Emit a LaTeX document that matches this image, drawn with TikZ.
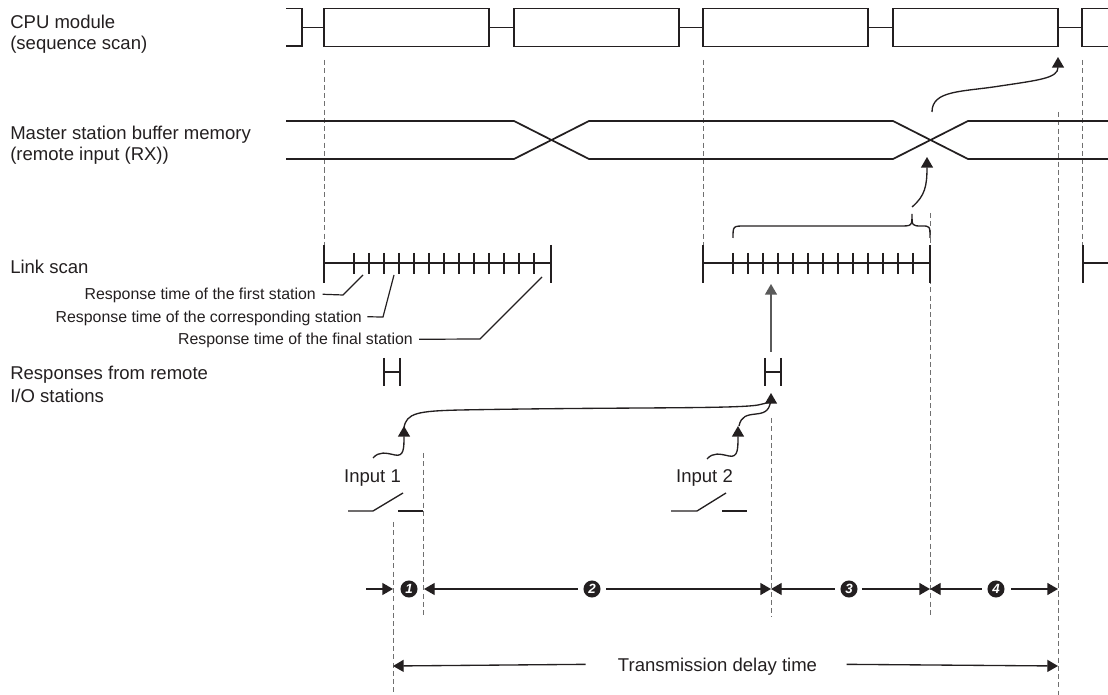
\documentclass[tikz,border=0pt]{standalone}
\usepackage{fontspec}
\setmainfont{Liberation Sans}
\usetikzlibrary{arrows.meta}

\definecolor{ink}{HTML}{231F20}
\definecolor{guide}{HTML}{707070}

\tikzset{
  lbl/.style={anchor=base west, inner sep=0pt, text=ink,
    font=\fontsize{13.9}{16}\selectfont},
  rlbl/.style={lbl, anchor=base east, font=\fontsize{11.9}{14}\selectfont},
  clbl/.style={lbl, anchor=base},
  cpubox/.style={draw=ink, line width=1.3pt, minimum width=123.75pt, minimum height=28.5pt,
    inner sep=0pt, outer sep=0pt},
  sig/.style={draw=ink, line width=1.3pt},
  scanline/.style={draw=ink, line width=1.8pt},
  guideline/.style={draw=guide, line width=0.7pt, dash pattern=on 3.8pt off 2.4pt},
  tip/.style={draw=ink, line width=1pt, -{Triangle[length=8pt,width=9pt]}},
  num/.style={circle, fill=ink, text=white, inner sep=0pt, minimum size=12.8pt,
    font=\fontsize{10}{10}\selectfont\bfseries\itshape},
}

\begin{document}
\begin{tikzpicture}[x=0.75pt, y=-0.75pt]
\useasboundingbox (0,0) rectangle (1108,695);

% row labels
\node[lbl] (cpuA) at (10,28.5) {CPU module};
\node[lbl] (cpuB) at (10,50) {(sequence scan)};
\node[lbl] (bufA) at (10,139.5) {Master station buffer memory};
\node[lbl] (bufB) at (10,161) {(remote input (RX))};
\node[lbl] (scan) at (10,274) {Link scan};
\node[lbl] (respA) at (10,380) {Responses from remote};
\node[lbl] (respB) at (10,403) {I/O stations};

% guide lines
\foreach \x/\ya/\yb in {324/60/245, 703/60/245, 1082/60/245, 1058/112/695,
                        930/213/617, 771/418/617, 423/453/617, 393/522/695}
  \draw[guideline] (\x,\ya) -- (\x,\yb);

% sequence scan
\foreach \i/\x in {1/406.5, 2/596.5, 3/785.5, 4/975.5}
  \node[cpubox] (cpu\i) at (\x,27.5) {};
\draw[sig] (286,8.5) -- (302,8.5) -- (302,46) -- (286,46);
\draw[sig] (302,27.5) -- (cpu1.west);
\draw[sig] (cpu1.east) -- (cpu2.west);
\draw[sig] (cpu2.east) -- (cpu3.west);
\draw[sig] (cpu3.east) -- (cpu4.west);
\draw[sig] (cpu4.east) -- (1082,27.5);
\draw[sig] (1108,8.5) -- (1082,8.5) -- (1082,46.5) -- (1108,46.5);

% buffer memory
\draw[sig] (286,121) -- (514,121) -- (589,159) -- (893,159) -- (968,121) -- (1108,121);
\draw[sig] (286,159) -- (514,159) -- (589,121) -- (893,121) -- (968,159) -- (1108,159);

% link scans
\foreach \s in {324,703} {
  \draw[scanline] (\s,263) -- (\s+227,263);
  \draw[scanline] (\s,245) -- (\s,283);
  \draw[scanline] (\s+227,245) -- (\s+227,283);
  \foreach \k in {0,...,12}
    \draw[ink, line width=1.4pt] (\s+30+15*\k,253) -- (\s+30+15*\k,274);
}
\draw[scanline] (1083,245) -- (1083,283);
\draw[scanline] (1083,263) -- (1108,263);

% leaders
\node[rlbl] (first) at (316,300) {Response time of the first station};
\node[rlbl] (corr) at (362,322.5) {Response time of the corresponding station};
\node[rlbl] (final) at (413,345) {Response time of the final station};
\draw[ink, line width=0.9pt] ([xshift=5pt,yshift=4.3pt]first.base east) -- (343,295) -- (363,275);
\draw[ink, line width=0.9pt] ([xshift=4pt,yshift=4.3pt]corr.base east) -- (383,317) -- (394,275);
\draw[ink, line width=0.9pt] ([xshift=4.5pt,yshift=4.3pt]final.base east) -- (480,339) -- (542,277);

% responses
\foreach \x in {392,773}
  \draw[ink, line width=1.3pt] (\x-8,358) -- (\x-8,386) (\x-8,372) -- (\x+8,372) (\x+8,358) -- (\x+8,386);
\draw[tip, draw=guide!80!black] (771,352) -- (771,284);

% brace and transfer arrows
\draw[ink, line width=1pt] (733,238) .. controls (733,226) .. (745,226) -- (900,226)
  .. controls (912,226) .. (912,214) .. controls (912,226) .. (922,226)
  .. controls (930,226) .. (930,238);
\draw[tip] (912,207) .. controls (925,196) and (927,186) .. (927,157);
\draw[tip] (932,112) .. controls (932,90) and (962,92) .. (1000,86)
  .. controls (1040,80) and (1058,78) .. (1058,57);

% inputs
\node[clbl] (in1) at (372.5,483) {Input 1};
\node[clbl] (in2) at (704.5,483) {Input 2};
\draw[tip] (373,458) .. controls (379,451) and (386,453) .. (395,455)
  .. controls (404,457) and (404,448) .. (404,426);
\draw[tip] (707,459) .. controls (713,452) and (720,454) .. (729,456)
  .. controls (738,458) and (738,449) .. (738,426);
\draw[tip] (404,428) .. controls (406,413) and (418,411) .. (460,410)
  .. controls (620,407) and (735,409) .. (758,405)
  .. controls (768,403) and (771,401) .. (771,393);
\draw[ink, line width=1pt] (739,426) .. controls (741,416) and (747,415) .. (756,414)
  .. controls (767,413) and (770,409) .. (771,398);
\draw[ink, line width=1pt] (348,511) -- (373,511) -- (403,493);
\draw[ink, line width=1pt] (398,511) -- (423,511);
\draw[ink, line width=1pt] (671,511) -- (697,511) -- (726,493);
\draw[ink, line width=1pt] (722,511) -- (747,511);

% time spans
\node[num] (n1) at (409,589) {1};
\node[num] (n2) at (592,589) {2};
\node[num] (n3) at (849,589) {3};
\node[num] (n4) at (996,589) {4};
\draw[tip] (366,589) -- (393,589);
\draw[tip] ([xshift=-4pt]n2.west) -- (424,589);
\draw[tip] ([xshift=4pt]n2.east) -- (771,589);
\draw[tip] ([xshift=-4pt]n3.west) -- (771,589);
\draw[tip] ([xshift=3pt]n3.east) -- (930,589);
\draw[tip] ([xshift=-4pt]n4.west) -- (930,589);
\draw[tip] ([xshift=5pt]n4.east) -- (1058,589);

\node[clbl] (delay) at (717.5,671) {Transmission delay time};
\draw[tip] ([xshift=-24pt,yshift=5pt]delay.base west) -- (393,666);
\draw[tip] ([xshift=22pt,yshift=5pt]delay.base east) -- (1058,666);
\end{tikzpicture}
\end{document}
